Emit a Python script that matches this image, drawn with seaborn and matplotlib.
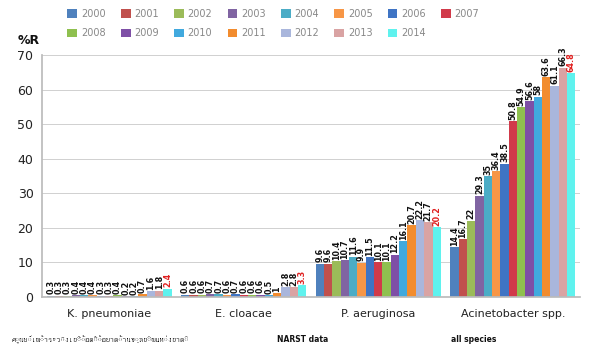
import matplotlib
matplotlib.use("Agg")
import matplotlib.pyplot as plt
from matplotlib import font_manager
from matplotlib.ft2font import FT2Font
import seaborn as sns
import pandas as pd

organisms = ["K. pneumoniae", "E. cloacae", "P. aeruginosa", "Acinetobacter spp."]
years = [str(y) for y in range(2000, 2015)]

k_pneumoniae = [0.3, 0.3, 0.3, 0.4, 0.4, 0.4, 0.3, 0.3, 0.4, 0.2, 0.2, 0.7, 1.6, 1.8, 2.4]
e_cloacae = [0.6, 0.6, 0.6, 0.7, 0.7, 0.6, 0.7, 0.6, 0.6, 0.6, 0.5, 1.0, 2.8, 2.8, 3.3]
p_aeruginosa = [9.6, 9.6, 10.4, 10.7, 11.6, 9.9, 11.5, 10.1, 10.1, 12.2, 16.1, 20.7, 22.2, 21.7, 20.2]
acinetobacter = [14.4, 16.7, 22.0, 29.3, 35.0, 36.4, 38.5, 50.8, 54.9, 56.6, 58.0, 63.6, 61.1, 66.3, 64.8]

palette = ["#4F81BD", "#C0504D", "#9BBB59", "#8064A2", "#4BACC6", "#F79646",
           "#3F74C4", "#D13A4A", "#8FC04F", "#7E4FA6", "#41A9DE", "#F28C2E",
           "#A9B6DC", "#D9A3A3", "#5FF2EE"]

source_th = "ศูนย์เฝ้าระวังเชื้อดื้อยาต้านจุลชีพแห่งชาติ"

rows = []
for org, vals in zip(organisms, [k_pneumoniae, e_cloacae, p_aeruginosa, acinetobacter]):
    for yr, v in zip(years, vals):
        rows.append({"organism": org, "year": yr, "pct": v})
df = pd.DataFrame(rows)


def thai_family():
    # look for any installed font that covers Thai script
    for path in font_manager.findSystemFonts():
        try:
            ft = FT2Font(path)
            cmap = ft.get_charmap()
        except Exception:
            continue
        if all(ord(c) in cmap for c in "ศูนย์เฝ้า"):
            return font_manager.FontProperties(fname=path).get_name()
    return None


sns.set_theme(style="white")
plt.rcParams["font.family"] = ["DejaVu Sans"]

fig = plt.figure(figsize=(5.89, 3.53), dpi=100)
ax = fig.add_axes([0.071, 0.159, 0.914, 0.685])

sns.barplot(data=df, x="organism", y="pct", hue="year", hue_order=years,
            palette=palette, width=0.93, saturation=1, linewidth=0,
            ax=ax, legend=True)

ax.set_ylim(0, 70)
ax.set_yticks(range(0, 71, 10))
ax.yaxis.grid(True, color="#D0D0D0", linewidth=0.7)
ax.set_axisbelow(True)
for s in ["top", "right"]:
    ax.spines[s].set_visible(False)
ax.spines["left"].set_color("#BBBBBB")
ax.spines["bottom"].set_color("#BBBBBB")
ax.tick_params(axis="y", labelsize=9, colors="#222222", length=0, pad=6)
ax.tick_params(axis="x", labelsize=8, colors="#222222", length=0, pad=9)
ax.set_xlabel("")
ax.set_ylabel("")
ax.set_xlim(-0.5, 3.5)

for i, cont in enumerate(ax.containers):
    color = "#E02020" if i == len(ax.containers) - 1 else "#111111"
    ax.bar_label(cont, labels=[f"{v:g}" for v in cont.datavalues],
                 rotation=90, fontsize=5.8, fontweight="bold", color=color, padding=1)

# row-major legend: 2000-2007 on the first row, 2008-2014 on the second
handles, labels = ax.get_legend_handles_labels()
ax.get_legend().remove()
order = []
for j in range(8):
    order.append(j)
    if j + 8 < len(labels):
        order.append(j + 8)
fig.legend([handles[k] for k in order], [labels[k] for k in order],
           loc="upper left", bbox_to_anchor=(0.103, 0.995), ncol=8,
           frameon=False, fontsize=7, labelcolor="#888888", handlelength=1.0,
           handleheight=1.0, handletextpad=0.4, columnspacing=1.55,
           labelspacing=1.0, borderaxespad=0.3)

fig.text(0.03, 0.875, "%R", fontsize=9, fontweight="bold", color="#111111")
fam = thai_family()
families = [fam, "DejaVu Sans"] if fam else ["DejaVu Sans"]
fig.text(0.02, 0.03, source_th, fontsize=6, fontfamily=families, color="#111111")
fig.text(0.47, 0.03, "NARST data", fontsize=5.5, fontweight="bold", color="#111111")
fig.text(0.765, 0.03, "all species", fontsize=5.5, fontweight="bold", color="#111111")

fig.savefig("out.png", dpi=100)
